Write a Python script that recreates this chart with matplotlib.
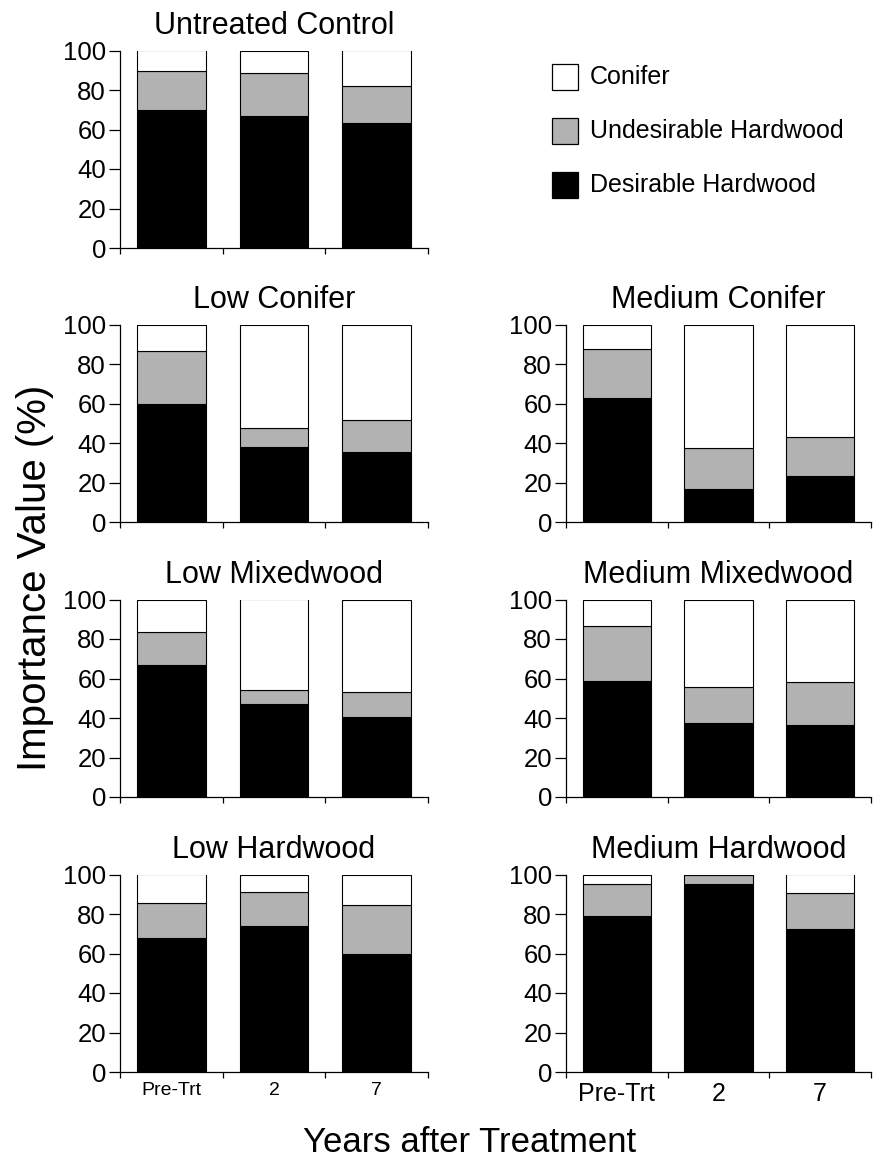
import matplotlib
matplotlib.use("Agg")
import matplotlib.pyplot as plt
from matplotlib.patches import Rectangle

plt.rcParams['font.family'] = ['Liberation Sans', 'DejaVu Sans']

years = ['Pre-Trt', '2', '7']

# importance value (%) per panel: desirable, undesirable, conifer
control_des = [70, 67, 63.5]
control_und = [19.5, 21.5, 18.5]
control_con = [10.5, 11.5, 18]

low_con_des = [60, 38, 35.5]
low_con_und = [26.5, 9.5, 16]
low_con_con = [13.5, 52.5, 48.5]

med_con_des = [63, 16.5, 23.5]
med_con_und = [24.5, 21, 19.5]
med_con_con = [12.5, 62.5, 57]

low_mix_des = [67, 47, 40.5]
low_mix_und = [16.5, 7, 12.5]
low_mix_con = [16.5, 46, 47]

med_mix_des = [58.5, 37.5, 36.5]
med_mix_und = [28, 18, 21.5]
med_mix_con = [13.5, 44.5, 42]

low_hw_des = [68, 74, 59.5]
low_hw_und = [17.5, 17, 25]
low_hw_con = [14.5, 9, 15.5]

med_hw_des = [79, 95, 72.5]
med_hw_und = [16, 4.5, 18]
med_hw_con = [5, 0.5, 9.5]

series_names = ['Conifer', 'Undesirable Hardwood', 'Desirable Hardwood']
colors = {'Conifer': 'white', 'Undesirable Hardwood': '#b2b2b2', 'Desirable Hardwood': 'black'}

W, H = 888, 1169
fig = plt.figure(figsize=(W / 100, H / 100), dpi=100)

col_x = [120, 566]
col_w = [308, 305]
row_bottom = [248, 522, 797, 1072]
ax_h = 197.5


def make_ax(row, col):
    x0 = col_x[col] / W
    y0 = 1 - row_bottom[row] / H
    return fig.add_axes([x0, y0, col_w[col] / W, ax_h / H])


def panel(ax, title, des, und, con, labels=False, label_size=18):
    pos = [0.5, 1.5, 2.5]
    und_base = [d for d in des]
    con_base = [d + u for d, u in zip(des, und)]
    kw = dict(width=0.67, edgecolor='black', linewidth=0.8)
    ax.bar(pos, des, color=colors['Desirable Hardwood'], **kw)
    ax.bar(pos, und, bottom=und_base, color=colors['Undesirable Hardwood'], **kw)
    ax.bar(pos, con, bottom=con_base, color=colors['Conifer'], **kw)
    ax.set_xlim(0, 3)
    ax.set_ylim(0, 100)
    ax.set_yticks([0, 20, 40, 60, 80, 100])
    ax.set_xticks([0, 1, 2, 3])
    ax.set_xticklabels([])
    ax.set_xticks(pos, minor=True)
    if labels:
        ax.set_xticklabels(years, minor=True, fontsize=label_size)
    ax.tick_params(axis='x', which='minor', length=0, pad=7)
    ax.tick_params(axis='x', which='major', length=4, width=0.9, direction='out')
    ax.tick_params(axis='y', length=8, width=0.9, direction='out', labelsize=18.5, pad=2)
    for s in ['top', 'right']:
        ax.spines[s].set_visible(False)
    for s in ['left', 'bottom']:
        ax.spines[s].set_linewidth(0.9)
    ax.set_title(title, fontsize=22, pad=12)


panel(make_ax(0, 0), 'Untreated Control', control_des, control_und, control_con)
panel(make_ax(1, 0), 'Low Conifer', low_con_des, low_con_und, low_con_con)
panel(make_ax(1, 1), 'Medium Conifer', med_con_des, med_con_und, med_con_con)
panel(make_ax(2, 0), 'Low Mixedwood', low_mix_des, low_mix_und, low_mix_con)
panel(make_ax(2, 1), 'Medium Mixedwood', med_mix_des, med_mix_und, med_mix_con)
panel(make_ax(3, 0), 'Low Hardwood', low_hw_des, low_hw_und, low_hw_con, labels=True, label_size=14)
panel(make_ax(3, 1), 'Medium Hardwood', med_hw_des, med_hw_und, med_hw_con, labels=True, label_size=18)

# legend drawn by hand in the empty top-right slot
box = 26
for i, name in enumerate(series_names):
    yc = 77 + i * 54
    fig.patches.append(Rectangle((552 / W, 1 - (yc + box / 2) / H), box / W, box / H,
                                 transform=fig.transFigure, facecolor=colors[name],
                                 edgecolor='black', linewidth=0.9))
    fig.text(590 / W, 1 - yc / H, name, fontsize=18, va='center', ha='left')

fig.text(35 / W, 1 - 578 / H, 'Importance Value (%)', fontsize=29,
         rotation=90, va='center', ha='center')
fig.text(470 / W, 1 - 1142 / H, 'Years after Treatment', fontsize=25,
         va='center', ha='center')

fig.savefig('out.png', dpi=100)
